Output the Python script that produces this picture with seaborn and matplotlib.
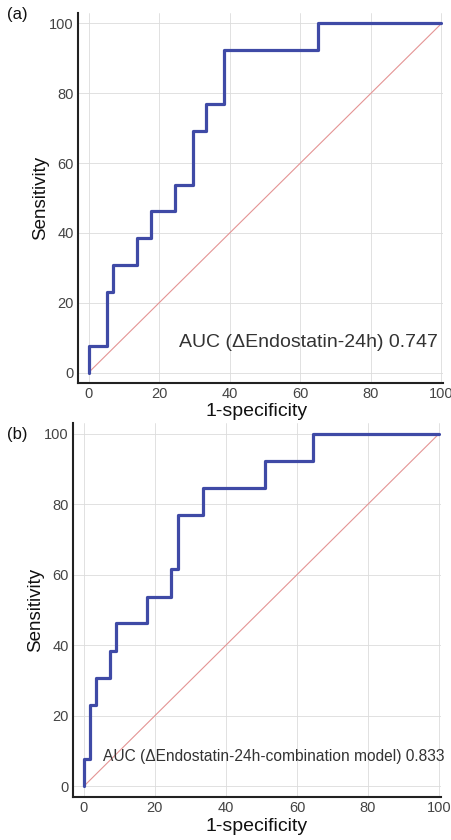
"""ROC curves for delta-Endostatin-24h, single marker vs combination model
"""
import matplotlib
matplotlib.use("Agg")
import matplotlib.pyplot as plt
import pandas as pd
import seaborn as sns
from matplotlib.ticker import MultipleLocator


# Data

# (a) delta-Endostatin-24h
FPR_A = [0, 0, 5.1, 6.9, 13.8, 17.6, 24.4, 29.7, 33.3, 38.5, 64.9, 100]
TPR_A = [0, 7.7, 23.1, 30.8, 38.5, 46.2, 53.8, 69.2, 76.9, 92.3, 100, 100]
AUC_A = 0.747

# (b) delta-Endostatin-24h combination model
FPR_B = [0, 0, 1.7, 3.5, 7.3, 9.0, 17.7, 24.7, 26.6, 33.6, 50.9, 64.6, 100]
TPR_B = [0, 7.7, 23.1, 30.8, 38.5, 46.2, 53.8, 61.5, 76.9, 84.6, 92.3, 100, 100]
AUC_B = 0.833

TICKS = [0, 20, 40, 60, 80, 100]

ROC_COLOR = "#3f4aa6"
DIAG_COLOR = "#e49494"
TEXT_COLOR = "#333333"

sns.set_style("white")
plt.rcParams["font.family"] = ["Liberation Sans", "DejaVu Sans"]


def draw_roc(ax, fpr, tpr, label, label_pos, auc_text, auc_size, auc_x):
    df = pd.DataFrame({"fpr": fpr, "tpr": tpr})
    sns.lineplot(x=[0, 100], y=[0, 100], ax=ax, color=DIAG_COLOR, lw=0.8)
    sns.lineplot(data=df, x="fpr", y="tpr", ax=ax, estimator=None, sort=False,
                 drawstyle="steps-post", color=ROC_COLOR, lw=2.3)

    ax.set_xlim(-3, 100.5)
    ax.set_ylim(-3, 103)
    ax.set_xticks(TICKS)
    ax.set_yticks(TICKS)
    ax.xaxis.set_minor_locator(MultipleLocator(5))
    ax.yaxis.set_minor_locator(MultipleLocator(5))
    ax.grid(True, which="major", color="#dcdcdc", lw=0.6)
    ax.set_axisbelow(True)

    for side in ["top", "right"]:
        ax.spines[side].set_visible(False)
    for side in ["left", "bottom"]:
        ax.spines[side].set_color("#222222")
        ax.spines[side].set_linewidth(1.5)

    ax.tick_params(which="major", direction="in", length=6, width=1.3,
                   colors="#222222", labelcolor="#444444", labelsize=10.5, pad=3)
    ax.tick_params(which="minor", direction="in", length=3, width=1.0, colors="#222222")

    ax.set_xlabel("1-specificity", fontsize=14, color="#111111", labelpad=0)
    ax.set_ylabel("Sensitivity", fontsize=13.5, color="#111111", labelpad=0)

    ax.text(auc_x, 8.6, auc_text, ha="right", va="center",
            fontsize=auc_size, color=TEXT_COLOR)
    ax.text(label_pos[0], label_pos[1], label, transform=ax.transAxes, fontsize=12,
            color="#111111", ha="left", va="center")


def main():
    fig = plt.figure(figsize=(4.52, 8.4), dpi=100)
    ax_a = fig.add_axes([0.1726, 0.544, 0.808, 0.4405])
    ax_b = fig.add_axes([0.1615, 0.0512, 0.814, 0.4452])

    draw_roc(ax_a, FPR_A, TPR_A, "(a)", (-0.195, 0.995),
             f"AUC (\u0394Endostatin-24h) {AUC_A:.3f}", 14, 99)
    draw_roc(ax_b, FPR_B, TPR_B, "(b)", (-0.18, 0.97),
             f"AUC (\u0394Endostatin-24h-combination model) {AUC_B:.3f}", 11.2, 101.5)
    ax_a.xaxis.set_label_coords(0.49, -0.054)
    ax_b.xaxis.set_label_coords(0.50, -0.055)

    fig.savefig("out.png", dpi=100)
    plt.close(fig)


if __name__ == "__main__":
    main()
